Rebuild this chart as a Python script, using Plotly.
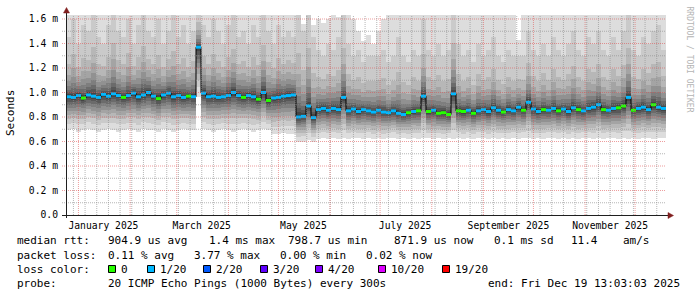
import numpy as np
import pandas as pd
import plotly.graph_objects as go

# ---------------- data ----------------
START = "2024-12-24 13:03:03"
END = "2025-12-19 13:03:03"
STEP_DAYS = 3  # one smoke column per 3 days

median_ms = [
    0.965, 0.960, 0.975, 0.955, 0.980, 0.970, 0.960, 0.985, 0.970, 0.990,
    0.975, 0.960, 0.975, 0.995, 0.965, 0.980, 1.000, 0.970, 0.950, 0.980,
    0.995, 0.965, 0.975, 0.960, 0.970, 0.965, 1.370, 0.995, 0.965, 0.970,
    0.960, 0.965, 0.975, 1.000, 0.975, 0.960, 0.975, 0.965, 0.945, 1.000,
    0.935, 0.955, 0.960, 0.970, 0.975, 0.980, 0.800, 0.805, 0.890, 0.795,
    0.860, 0.870, 0.855, 0.870, 0.860, 0.960, 0.850, 0.865, 0.845, 0.860,
    0.850, 0.840, 0.855, 0.840, 0.835, 0.850, 0.830, 0.820, 0.835, 0.845,
    0.850, 0.970, 0.845, 0.855, 0.830, 0.835, 0.820, 0.990, 0.850, 0.845,
    0.855, 0.830, 0.850, 0.860, 0.845, 0.875, 0.855, 0.840, 0.860, 0.850,
    0.880, 0.855, 0.920, 0.865, 0.845, 0.860, 0.855, 0.870, 0.850, 0.865,
    0.845, 0.875, 0.860, 0.850, 0.870, 0.880, 0.900, 0.860, 0.855, 0.870,
    0.875, 0.890, 0.960, 0.855, 0.870, 0.880, 0.860, 0.900, 0.880, 0.870,
]

lost_pings = [
    1, 1, 1, 0, 1, 1, 1, 1, 1, 1,
    1, 0, 1, 1, 1, 1, 1, 1, 0, 1,
    1, 1, 1, 1, 0, 1, 1, 1, 1, 1,
    1, 1, 1, 1, 1, 0, 1, 1, 0, 1,
    0, 1, 1, 1, 1, 1, 1, 1, 1, 1,
    1, 1, 1, 1, 1, 1, 1, 1, 1, 1,
    1, 1, 1, 1, 1, 1, 1, 1, 0, 1,
    0, 1, 0, 1, 0, 0, 0, 1, 0, 0,
    1, 0, 1, 1, 1, 1, 1, 0, 1, 1,
    1, 0, 1, 1, 1, 0, 1, 1, 0, 1,
    1, 1, 0, 1, 1, 1, 1, 0, 1, 1,
    0, 0, 1, 0, 1, 1, 1, 0, 1, 1,
]

min_ms = [
    0.69, 0.70, 0.68, 0.69, 0.70, 0.69, 0.68, 0.69, 0.70, 0.69,
    0.68, 0.69, 0.70, 0.69, 0.68, 0.70, 0.69, 0.69, 0.68, 0.70,
    0.69, 0.68, 0.69, 0.70, 0.69, 0.69, 0.96, 0.70, 0.69, 0.68,
    0.69, 0.70, 0.69, 0.68, 0.69, 0.70, 0.69, 0.68, 0.69, 0.70,
    0.69, 0.66, 0.66, 0.67, 0.66, 0.66, 0.60, 0.60, 0.61, 0.60,
    0.62, 0.63, 0.62, 0.63, 0.62, 0.63, 0.62, 0.63, 0.63, 0.62,
    0.63, 0.62, 0.63, 0.62, 0.63, 0.63, 0.62, 0.63, 0.62, 0.63,
    0.62, 0.63, 0.63, 0.62, 0.63, 0.62, 0.63, 0.62, 0.63, 0.62,
    0.63, 0.62, 0.63, 0.63, 0.62, 0.63, 0.62, 0.63, 0.62, 0.63,
    0.62, 0.63, 0.63, 0.62, 0.63, 0.62, 0.63, 0.63, 0.62, 0.63,
    0.62, 0.63, 0.62, 0.63, 0.63, 0.62, 0.63, 0.62, 0.63, 0.63,
    0.62, 0.63, 0.62, 0.63, 0.62, 0.63, 0.63, 0.62, 0.63, 0.63,
]

# 19th of 20 sorted pings
p95_ms = [
    1.45, 1.60, 1.40, 1.55, 1.50, 1.70, 1.45, 1.40, 1.55, 1.75,
    1.50, 1.45, 1.60, 1.40, 1.55, 1.70, 1.50, 1.45, 1.60, 1.40,
    1.50, 1.65, 1.45, 1.55, 1.40, 1.50, 1.75, 1.55, 1.45, 1.60,
    1.50, 1.40, 1.55, 1.65, 1.45, 1.50, 1.40, 1.55, 1.45, 1.70,
    1.50, 1.40, 1.55, 1.45, 1.50, 1.45, 1.75, 1.50, 1.75, 1.45,
    1.35, 1.30, 1.40, 1.35, 1.45, 1.70, 1.40, 1.30, 1.35, 1.25,
    1.30, 1.30, 1.30, 1.35, 1.25, 1.30, 1.45, 1.30, 1.25, 1.35,
    1.30, 1.60, 1.35, 1.30, 1.40, 1.30, 1.35, 1.75, 1.40, 1.30,
    1.35, 1.25, 1.40, 1.30, 1.35, 1.45, 1.30, 1.25, 1.35, 1.30,
    1.30, 1.30, 1.50, 1.35, 1.30, 1.40, 1.30, 1.45, 1.35, 1.30,
    1.40, 1.50, 1.35, 1.30, 1.45, 1.40, 1.50, 1.35, 1.30, 1.45,
    1.35, 1.50, 1.70, 1.35, 1.30, 1.45, 1.40, 1.50, 1.55, 1.35,
]

max_ms = [
    1.75, 1.75, 1.75, 1.75, 1.75, 1.75, 1.75, 1.75, 1.75, 1.75,
    1.75, 1.75, 1.75, 1.75, 1.75, 1.75, 1.75, 1.75, 1.75, 1.75,
    1.75, 1.75, 1.75, 1.75, 1.75, 1.75, 1.75, 1.75, 1.75, 1.75,
    1.75, 1.75, 1.75, 1.75, 1.75, 1.75, 1.75, 1.75, 1.75, 1.75,
    1.75, 1.75, 1.75, 1.75, 1.75, 1.75, 1.75, 1.56, 1.75, 1.55,
    1.60, 1.57, 1.60, 1.75, 1.62, 1.75, 1.75, 1.60, 1.50, 1.42,
    1.47, 1.40, 1.50, 1.60, 1.75, 1.75, 1.75, 1.75, 1.75, 1.75,
    1.75, 1.75, 1.75, 1.75, 1.75, 1.75, 1.75, 1.75, 1.75, 1.75,
    1.75, 1.75, 1.75, 1.75, 1.75, 1.75, 1.75, 1.75, 1.75, 1.75,
    1.43, 1.75, 1.75, 1.75, 1.75, 1.75, 1.75, 1.75, 1.75, 1.75,
    1.75, 1.75, 1.75, 1.75, 1.75, 1.75, 1.75, 1.75, 1.75, 1.75,
    1.75, 1.75, 1.75, 1.75, 1.75, 1.75, 1.75, 1.75, 1.75, 1.75,
]

y_tick_vals = [0.0, 0.2, 0.4, 0.6, 0.8, 1.0, 1.2, 1.4, 1.6]
y_tick_text = ["0.0", "0.2 m", "0.4 m", "0.6 m", "0.8 m", "1.0 m", "1.2 m", "1.4 m", "1.6 m"]
x_label_months = ["2025-01", "2025-03", "2025-05", "2025-07", "2025-09", "2025-11"]
x_label_text = ["January 2025", "March 2025", "May 2025", "July 2025", "September 2025", "November 2025"]

loss_levels = ["0", "1/20", "2/20", "3/20", "4/20", "10/20", "19/20"]
loss_colors = ["#26ff00", "#00b8ff", "#0059ff", "#5e00ff", "#7e00ff", "#dd00ff", "#ff0000"]

legend_rows = [
    [(16, "median rtt:"), (107, "904.9 us avg"), (207.5, "1.4 ms max"), (286.5, "798.7 us min"),
     (393, "871.9 us now"), (493, "0.1 ms sd"), (570, "11.4"), (621.5, "am/s")],
    [(16, "packet loss:"), (107, "0.11 % avg"), (192.5, "3.77 % max"), (279, "0.00 % min"),
     (365, "0.02 % now")],
    [(16, "loss color:")],
    [(16, "probe:"), (107, "20 ICMP Echo Pings (1000 Bytes) every 300s")],
]
end_text = "end: Fri Dec 19 13:03:03 2025"

# ---------------- styling constants ----------------
W, H = 697, 297
L, R, T, B = 66, 31, 15, 82
PW, PH = W - L - R, H - T - B
Y_TOP = 1.6327
FONT = "DejaVu Sans Mono"
LOW_FRAC = [0.0, 0.20, 0.35, 0.47, 0.58, 0.68, 0.77, 0.85, 0.92, 0.97]
HIGH_FRAC = [0.015, 0.04, 0.075, 0.12, 0.18, 0.26, 0.37, 0.55, 1.0]
GRAYS = [221 - 19 * k for k in range(10)]


def px(x):
    return (x - L) / PW


def py(y):
    return (T + PH - y) / PH


n = len(median_ms)
starts = pd.date_range(pd.Timestamp(START), periods=n + 1, freq=f"{STEP_DAYS}D")
centers = starts[:-1] + pd.Timedelta(days=STEP_DAYS / 2)
step_ms = STEP_DAYS * 86400000

pings = []
for lo, m, up, hi in zip(min_ms, median_ms, p95_ms, max_ms):
    col = [lo + (m - lo) * f for f in LOW_FRAC] + [m + (up - m) * f for f in HIGH_FRAC] + [hi]
    pings.append(col)

fig = go.Figure()

for b in range(10):
    base = [c[b] for c in pings]
    top = [c[19 - b] for c in pings]
    g = GRAYS[b]
    fig.add_trace(go.Bar(
        x=centers, base=base, y=[t - s for t, s in zip(top, base)], width=step_ms,
        marker=dict(color=f"rgb({g},{g},{g})", line=dict(width=0)),
        hoverinfo="skip", showlegend=False,
    ))

fig.add_trace(go.Scatter(
    x=starts, y=median_ms + [median_ms[-1]], mode="lines",
    line=dict(color="#000000", width=1, shape="hv"), hoverinfo="skip", showlegend=False,
))

for cls in sorted(set(lost_pings)):
    xs, ys = [], []
    for i in range(n):
        if lost_pings[i] == cls:
            xs += [starts[i], starts[i + 1], None]
            ys += [median_ms[i], median_ms[i], None]
    fig.add_trace(go.Scatter(
        x=xs, y=ys, mode="lines", line=dict(color=loss_colors[cls], width=3),
        hoverinfo="skip", showlegend=False,
    ))

shapes = []
dash = "1px,1px"
minor_col = "rgba(143,143,143,0.65)"
major_col = "rgba(222,79,79,0.55)"
# horizontal grid
for k in range(1, 17):
    v = k / 10
    shapes.append(dict(type="line", xref="paper", yref="y", x0=px(62), x1=1, y0=v, y1=v,
                       line=dict(color=major_col if k % 2 == 0 else minor_col, width=1, dash=dash),
                       layer="above"))
# vertical grid: weekly minor, monthly major
for d in pd.date_range("2024-12-29", END, freq="7D"):
    shapes.append(dict(type="line", xref="x", yref="paper", x0=d, x1=d, y0=0, y1=1,
                       line=dict(color=minor_col, width=1, dash=dash), layer="above"))
for d in pd.date_range("2025-01-01", END, freq="MS"):
    shapes.append(dict(type="line", xref="x", yref="paper", x0=d, x1=d, y0=0, y1=1,
                       line=dict(color=major_col, width=1, dash=dash), layer="above"))
# axes
axis_col = "#1f1f1f"
arrow_col = "#801f1f"
shapes.append(dict(type="line", xref="paper", yref="paper", x0=px(62), x1=px(670),
                   y0=py(215.5), y1=py(215.5), line=dict(color=axis_col, width=1), layer="above"))
shapes.append(dict(type="line", xref="paper", yref="paper", x0=px(66.5), x1=px(66.5),
                   y0=py(218), y1=py(12), line=dict(color=axis_col, width=1), layer="above"))
shapes.append(dict(type="path", xref="paper", yref="paper",
                   path=f"M {px(63.5)} {py(13)} L {px(69.5)} {py(13)} L {px(66.5)} {py(7.5)} Z",
                   fillcolor=arrow_col, line=dict(color=arrow_col, width=0.5), layer="above"))
shapes.append(dict(type="path", xref="paper", yref="paper",
                   path=f"M {px(668)} {py(212.5)} L {px(668)} {py(218.5)} L {px(673.5)} {py(215.5)} Z",
                   fillcolor=arrow_col, line=dict(color=arrow_col, width=0.5), layer="above"))

annotations = []
row_y = [241, 255.5, 269, 283.5]
for ry, row in zip(row_y, legend_rows):
    for x, txt in row:
        annotations.append(dict(xref="paper", yref="paper", x=px(x), y=py(ry), text=txt,
                                showarrow=False, xanchor="left", yanchor="middle", borderpad=0,
                                font=dict(family=FONT, size=11, color="#000000")))
annotations.append(dict(xref="paper", yref="paper", x=px(680.5), y=py(283.5), text=end_text,
                        showarrow=False, xanchor="right", yanchor="middle", borderpad=0,
                        font=dict(family=FONT, size=11, color="#000000")))
# loss color legend
sq_left = [108, 147, 203, 260, 315, 378, 442]
for x, lab, colr in zip(sq_left, loss_levels, loss_colors):
    shapes.append(dict(type="rect", xref="paper", yref="paper", x0=px(x + 0.5), x1=px(x + 7.5),
                       y0=py(265.5), y1=py(272.5), fillcolor=colr,
                       line=dict(color="#000000", width=1), layer="above"))
    annotations.append(dict(xref="paper", yref="paper", x=px(x + 12), y=py(269), text=lab,
                            showarrow=False, xanchor="left", yanchor="middle", borderpad=0,
                            font=dict(family=FONT, size=11, color="#000000")))
# unit label
annotations.append(dict(xref="paper", yref="paper", x=px(10.5), y=py(113.5), text="Seconds",
                        textangle=-90, showarrow=False, xanchor="center", yanchor="middle",
                        font=dict(family=FONT, size=11, color="#000000")))
# watermark
annotations.append(dict(xref="paper", yref="paper", x=px(688.5), y=py(59), text="RRDTOOL / TOBI OETIKER",
                        textangle=90, showarrow=False, xanchor="center", yanchor="middle",
                        font=dict(family=FONT, size=8, color="#b4b4b4")))

label_vals = [pd.Timestamp(m + "-01") + pd.Timedelta(days=15) for m in x_label_months]

fig.update_layout(
    width=W, height=H, autosize=False,
    margin=dict(l=L, r=R, t=T, b=B, pad=0),
    paper_bgcolor="#ffffff", plot_bgcolor="#ffffff",
    barmode="overlay", bargap=0, showlegend=False,
    shapes=shapes, annotations=annotations,
    xaxis=dict(type="date", range=[START, END], tickvals=label_vals, ticktext=x_label_text,
               showgrid=False, zeroline=False, showline=False, ticks="", ticklabelstandoff=3,
               tickfont=dict(family=FONT, size=9.7, color="#000000"), fixedrange=True),
    yaxis=dict(range=[0, Y_TOP], tickvals=y_tick_vals, ticktext=y_tick_text,
               showgrid=False, zeroline=False, showline=False, ticks="", ticklabelstandoff=7,
               tickfont=dict(family=FONT, size=9.7, color="#000000"), fixedrange=True),
)

fig.write_html("out.html", include_plotlyjs=True, config={"displayModeBar": False})
